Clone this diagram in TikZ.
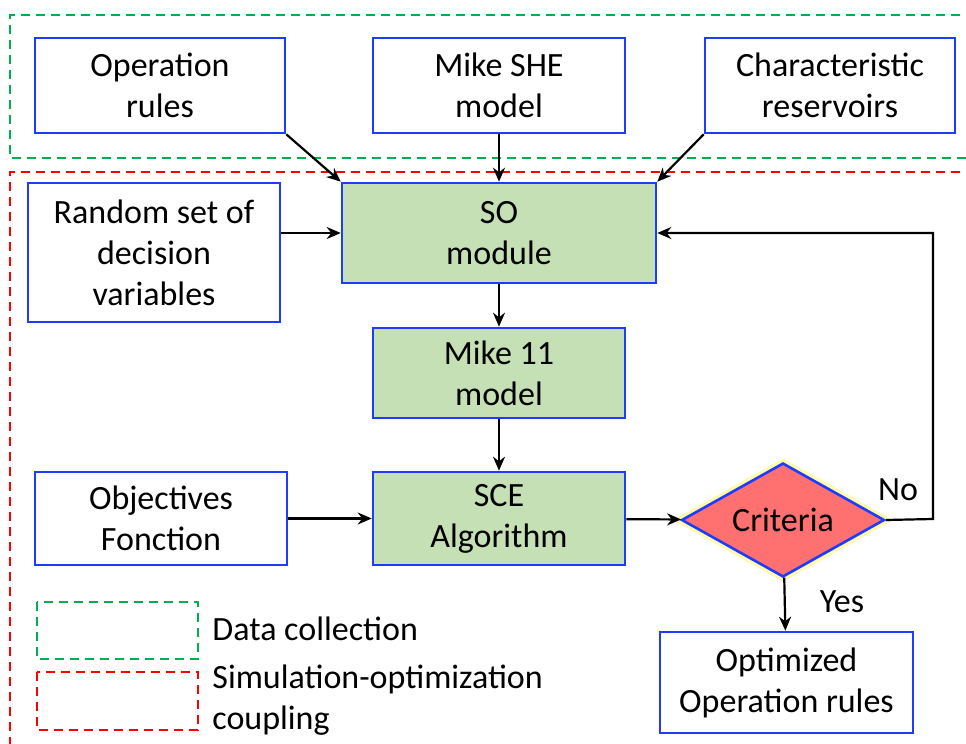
\documentclass[tikz,border=0pt]{standalone}
\usepackage{fontspec}
\setmainfont{Carlito}
\usetikzlibrary{shapes.geometric,arrows.meta}

\definecolor{boxblue}{RGB}{30,60,255}
\definecolor{dgreen}{RGB}{0,176,80}
\definecolor{modfill}{RGB}{197,224,180}
\definecolor{critfill}{RGB}{255,112,112}

\begin{document}
\begin{tikzpicture}[x=0.5pt,y=-0.5pt,
    font=\fontsize{17}{20.5}\selectfont,
    dashbox/.style={line width=1.4pt,dash pattern=on 4.5pt off 3pt},
    arr/.style={-{Stealth[length=7pt,width=6pt]},line width=1.1pt}]

        \useasboundingbox (0,0) rectangle (966,744);

        % frames
        \draw[dashbox,dgreen] (975,15) -- (10,15) -- (10,158) -- (975,158);
        \draw[dashbox,red] (975,172) -- (10,172) -- (10,750);

        \begin{scope}[every node/.style={rectangle,draw=boxblue,line width=1.3pt,
                      fill=white,align=center,inner sep=2pt}]
          \node[minimum width=125pt,minimum height=47.5pt] (op)   at (160,85.5)  {Operation\\rules};
          \node[minimum width=126pt,minimum height=47.5pt] (she)  at (499,85.5)  {Mike SHE\\model};
          \node[minimum width=125pt,minimum height=47.5pt] (char) at (830,85.5)  {Characteristic\\reservoirs};
          \node[minimum width=126pt,minimum height=69.5pt] (rand) at (154,252.5) {Random set of\\decision\\variables};
          \node[minimum width=126pt,minimum height=46.5pt] (obj)  at (161,518.5) {Objectives\\Fonction};
          \node[minimum width=126.5pt,minimum height=50.5pt] (opt) at (786.5,682.5) {Optimized\\Operation rules};
          \node[fill=modfill,minimum width=157pt,minimum height=50pt] (so)   at (499,233)   {SO\\module};
          \node[fill=modfill,minimum width=126pt,minimum height=45pt] (m11)  at (499,373)   {Mike 11\\model};
          \node[fill=modfill,minimum width=126pt,minimum height=46.5pt] (sce) at (499,518.5) {SCE\\Algorithm};
        \end{scope}

        \node[diamond,aspect=1.8,draw=boxblue,line width=1.3pt,fill=critfill,
              inner sep=0pt,minimum width=101.5pt,minimum height=57pt,
              preaction={draw=yellow!55!white,line width=4.5pt,opacity=.6}]
              (crit) at (783,520) {Criteria};

        \coordinate (fb) at (933,519);

        \begin{scope}[every path/.style={arr}]
          \path (op.south east)   edge (so.north west);
          \path (she)             edge (so);
          \path (char.south west) edge (so.north east);
          \path (rand.east |- so.west) edge (so.west);
          \path (so)              edge (m11);
          \path (m11)             edge (sce);
          \path (obj)             edge (sce);
          \path (sce)             edge (crit);
          \path (crit)            edge (opt);
          \draw (crit.east) -- (fb) |- (so.east);
        \end{scope}

        \node (no)  at (898,490) {No};
        \node (yes) at (842,602) {Yes};

        % legend
        \draw[dashbox,dgreen] (37,602) rectangle (198,659);
        \draw[dashbox,red] (37,672) rectangle (198,730);
        \node[anchor=west,inner sep=0pt] (ldata) at (212,629) {Data collection};
        \node[anchor=west,inner sep=0pt,align=left] (lsim) at (212,700)
              {Simulation-optimization\\coupling};

      \end{tikzpicture}
\end{document}
